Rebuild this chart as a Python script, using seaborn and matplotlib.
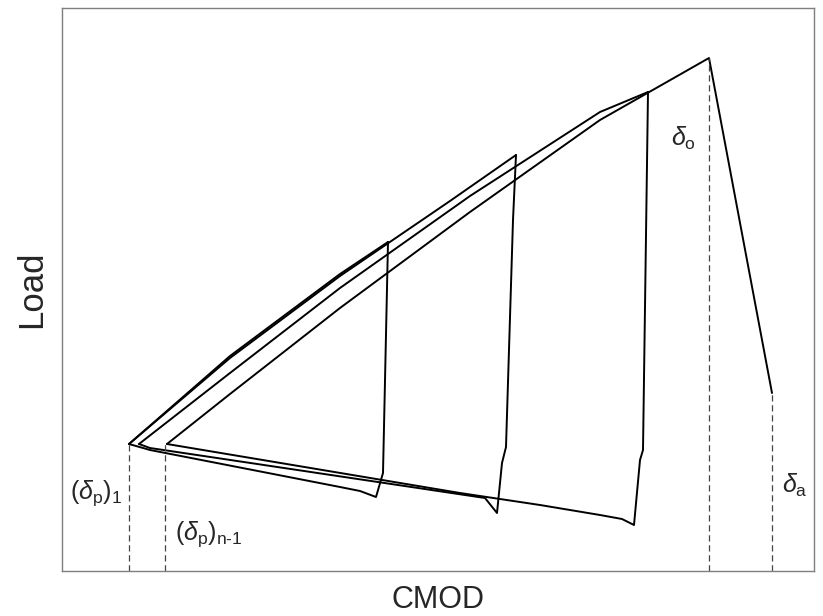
import numpy as np
import pandas as pd
import matplotlib
matplotlib.use("Agg")
import matplotlib.pyplot as plt
import seaborn as sns

# values (arbitrary CMOD / Load units, no ticks shown)
# loading branches
load1_cmod = [0.67, 1.68, 2.78, 3.26]
load1_load = [1.27, 2.15, 2.97, 3.29]
load2_cmod = [0.67, 1.68, 2.78, 3.88, 4.54]
load2_load = [1.27, 2.13, 2.95, 3.70, 4.16]
load3_cmod = [0.77, 1.68, 2.78, 4.08, 5.38, 5.86]
load3_load = [1.27, 1.98, 2.83, 3.75, 4.59, 4.79]
load4_cmod = [1.05, 1.68, 2.78, 4.08, 5.38, 6.47, 7.10]
load4_load = [1.27, 1.77, 2.63, 3.59, 4.51, 5.13, 1.78]

# unloading + return branches
unl1_cmod = [3.26, 3.21, 3.14, 2.98, 2.78, 0.88, 0.67]
unl1_load = [3.29, 0.98, 0.74, 0.80, 0.84, 1.21, 1.27]
unl2_cmod = [4.54, 4.51, 4.44, 4.40, 4.35, 4.23, 0.88, 0.77]
unl2_load = [4.16, 3.51, 1.24, 1.08, 0.58, 0.73, 1.23, 1.27]
unl3_cmod = [5.86, 5.81, 5.78, 5.72, 5.60, 5.38, 4.78, 3.98, 1.05]
unl3_load = [4.79, 1.21, 1.11, 0.46, 0.52, 0.56, 0.66, 0.78, 1.27]

# marker lines (x position, top)
mark_x = [0.67, 1.03, 6.47, 7.10]
mark_top = [1.27, 1.27, 5.13, 1.78]

labels = [r"$(\delta_{\rm p})_1$", r"$(\delta_{\rm p})_{\rm n\text{-}1}$",
          r"$\delta_{\rm o}$", r"$\delta_{\rm a}$"]
label_xy = [(0.34, 0.78), (1.47, 0.37), (6.21, 4.33), (7.33, 0.86)]

sns.set_style("white")
plt.rcParams["font.family"] = ["Liberation Sans", "DejaVu Sans"]
plt.rcParams["mathtext.fontset"] = "custom"
plt.rcParams["mathtext.rm"] = "Liberation Sans"
plt.rcParams["mathtext.it"] = "Liberation Sans:italic"

fig = plt.figure(figsize=(8.23, 6.16), dpi=100)
ax = fig.add_axes([62 / 823, 45 / 616, 752 / 823, 563 / 616])

curves = [(load1_cmod, load1_load), (load2_cmod, load2_load),
          (load3_cmod, load3_load), (load4_cmod, load4_load),
          (unl1_cmod, unl1_load), (unl2_cmod, unl2_load), (unl3_cmod, unl3_load)]
for cx, cy in curves:
    df = pd.DataFrame({"cmod": cx, "load": cy})
    sns.lineplot(data=df, x="cmod", y="load", sort=False, estimator=None,
                 color="black", linewidth=1.4, ax=ax)

for mx, mt in zip(mark_x, mark_top):
    ax.plot([mx, mx], [0, mt], color="#444444", linewidth=0.9, dashes=(5, 3))

for lab, (tx, ty) in zip(labels, label_xy):
    ax.text(tx, ty, lab, fontsize=18, ha="center", va="center")

ax.set_xlim(0, 7.52)
ax.set_ylim(0, 5.63)
ax.set_xticks([])
ax.set_yticks([])
ax.set_xlabel("CMOD", fontsize=22, labelpad=10)
ax.set_ylabel("Load", fontsize=25, labelpad=10)
for s in ax.spines.values():
    s.set_color("#7f7f7f")
    s.set_linewidth(1.0)

fig.savefig("out.png", dpi=100)
